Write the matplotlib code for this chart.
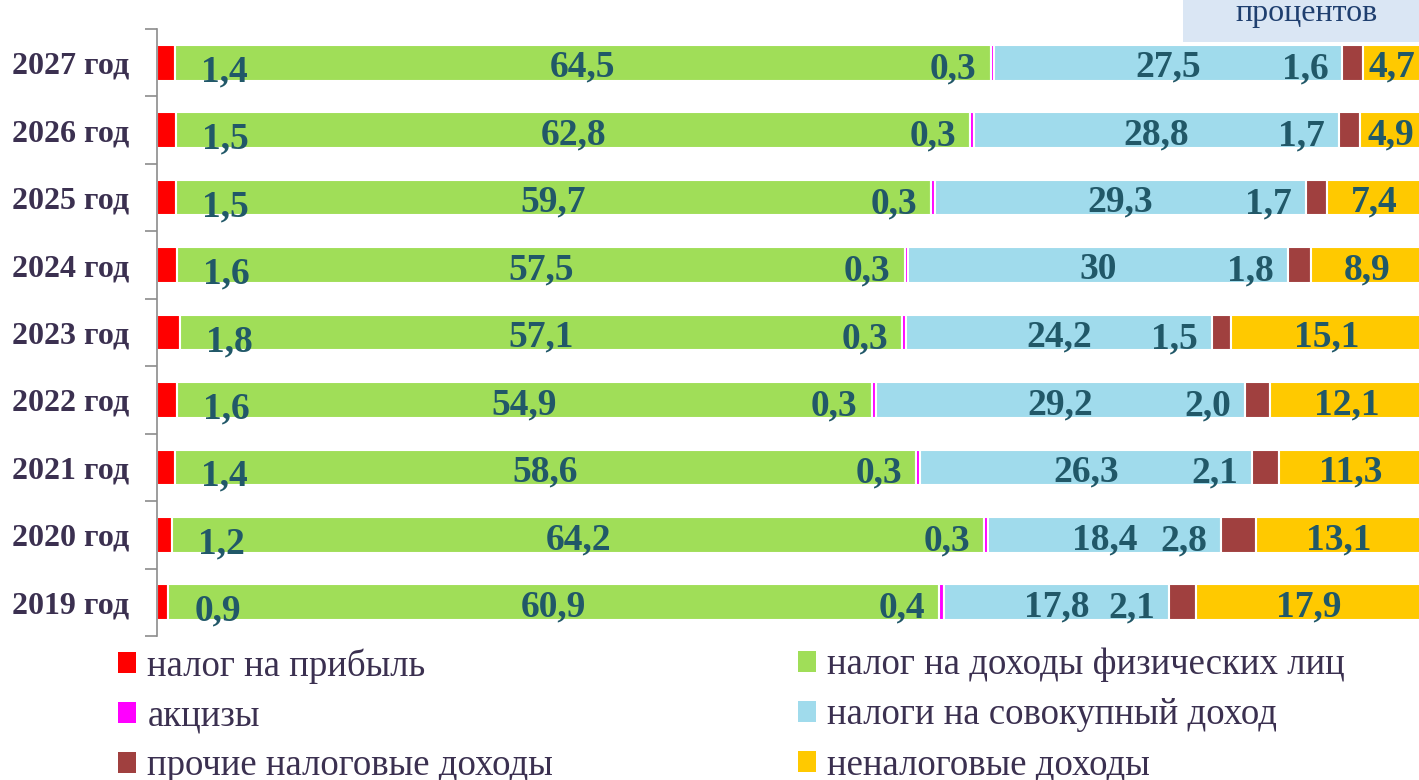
import matplotlib
matplotlib.use("Agg")
import matplotlib.pyplot as plt
from matplotlib.patches import Patch, Rectangle
import numpy as np

years = ["2019 год", "2020 год", "2021 год", "2022 год", "2023 год",
         "2024 год", "2025 год", "2026 год", "2027 год"]
profit_tax = [0.9, 1.2, 1.4, 1.6, 1.8, 1.6, 1.5, 1.5, 1.4]
income_tax = [60.9, 64.2, 58.6, 54.9, 57.1, 57.5, 59.7, 62.8, 64.5]
excise = [0.4, 0.3, 0.3, 0.3, 0.3, 0.3, 0.3, 0.3, 0.3]
aggregate_income = [17.8, 18.4, 26.3, 29.2, 24.2, 30, 29.3, 28.8, 27.5]
other_tax = [2.1, 2.8, 2.1, 2.0, 1.5, 1.8, 1.7, 1.7, 1.6]
non_tax = [17.9, 13.1, 11.3, 12.1, 15.1, 8.9, 7.4, 4.9, 4.7]
value_text = {
    "aggregate_income": ["17,8", "18,4", "26,3", "29,2", "24,2", "30", "29,3", "28,8", "27,5"],
    "other_tax": ["2,1", "2,8", "2,1", "2,0", "1,5", "1,8", "1,7", "1,7", "1,6"],
}

series = [
    ("налог на прибыль", profit_tax, "#ff0000"),
    ("налог на доходы физических лиц", income_tax, "#a0de58"),
    ("акцизы", excise, "#ff00ff"),
    ("налоги на совокупный доход", aggregate_income, "#a0dbec"),
    ("прочие налоговые доходы", other_tax, "#a0403f"),
    ("неналоговые доходы", non_tax, "#ffc900"),
]

def fmt(v):
    return ("%.1f" % v).replace(".", ",")

serif = "Liberation Serif"
lab_col = "#215868"
txt_col = "#3b3050"

fig = plt.figure(figsize=(14.19, 7.80), dpi=100)
ax = fig.add_axes([157 / 1419, 1 - 636 / 780, 1265 / 1419, 607 / 780])

y = np.arange(len(years))
left = np.zeros(len(years))
bars = []
for name, vals, col in series:
    ax.barh(y, vals, left=left, height=0.53, color=col,
            edgecolor="white", linewidth=1.5, label=name)
    bars.append((vals, left.copy()))
    left = left + np.array(vals)

fs = 27
kw = dict(fontsize=fs, fontweight="bold", color=lab_col, family=serif, va="center")
for i in range(len(years)):
    # profit tax: right of red segment
    v, l = bars[0]
    ax.annotate(fmt(v[i]), (l[i] + v[i], i), xytext=(26, -9), textcoords="offset pixels",
                ha="left", **kw)
    # income tax: centered
    v, l = bars[1]
    ax.text(l[i] + v[i] / 2, i - 0.07, fmt(v[i]), ha="center", **kw)
    # excise: left of magenta
    v, l = bars[2]
    ax.annotate(fmt(v[i]), (l[i], i), xytext=(-14, -6), textcoords="offset pixels",
                ha="right", **kw)
    # aggregate income: centered
    v, l = bars[3]
    ax.text(l[i] + v[i] / 2, i - 0.07, value_text["aggregate_income"][i], ha="center", **kw)
    # other taxes: left of brown
    v, l = bars[4]
    ax.annotate(value_text["other_tax"][i], (l[i], i), xytext=(-14, -6),
                textcoords="offset pixels", ha="right", **kw)
    # non-tax: centered
    v, l = bars[5]
    ax.text(l[i] + v[i] / 2, i - 0.07, fmt(v[i]), ha="center", **kw)

ax.set_xlim(0, 100)
ax.set_ylim(-0.5, len(years) - 0.5)
ax.set_yticks(y)
ax.set_yticklabels(years, fontsize=23, fontweight="bold", family=serif, color=txt_col)
ax.set_yticks(np.arange(len(years) + 1) - 0.5, minor=True)
ax.tick_params(axis="y", which="major", length=0, pad=20)
ax.tick_params(axis="y", which="minor", length=9, color="#8c8c8c", width=1.2)
ax.set_xticks([])
for s in ["top", "right", "bottom"]:
    ax.spines[s].set_visible(False)
ax.spines["left"].set_color("#8c8c8c")
ax.spines["left"].set_linewidth(1.2)

# legend in two columns
handles = [Patch(facecolor=c, edgecolor="none", label=n) for n, _, c in series]
leg_kw = dict(frameon=False, handlelength=0.5, handleheight=0.5, handletextpad=0.3,
              labelspacing=0.42, borderpad=0, borderaxespad=0,
              prop={"family": serif, "size": 26.5}, labelcolor=txt_col)
fig.legend(handles=[handles[0], handles[2], handles[4]], loc="upper left",
           bbox_to_anchor=(118 / 1419, 1 - 648 / 780), **leg_kw)
fig.legend(handles=[handles[1], handles[3], handles[5]], loc="upper left",
           bbox_to_anchor=(798 / 1419, 1 - 648 / 780), **leg_kw)

# unit box at the top right
fig.patches.append(Rectangle((1183 / 1419, 1 - 42 / 780), 240 / 1419, 42 / 780,
                             transform=fig.transFigure, facecolor="#dae6f4",
                             edgecolor="none", zorder=0))
fig.text(1307 / 1419, 1 - 13 / 780, "процентов", ha="center", va="center",
         fontsize=23, family=serif, color="#1f3f6f")

fig.savefig("out.png", dpi=100)
plt.close(fig)
